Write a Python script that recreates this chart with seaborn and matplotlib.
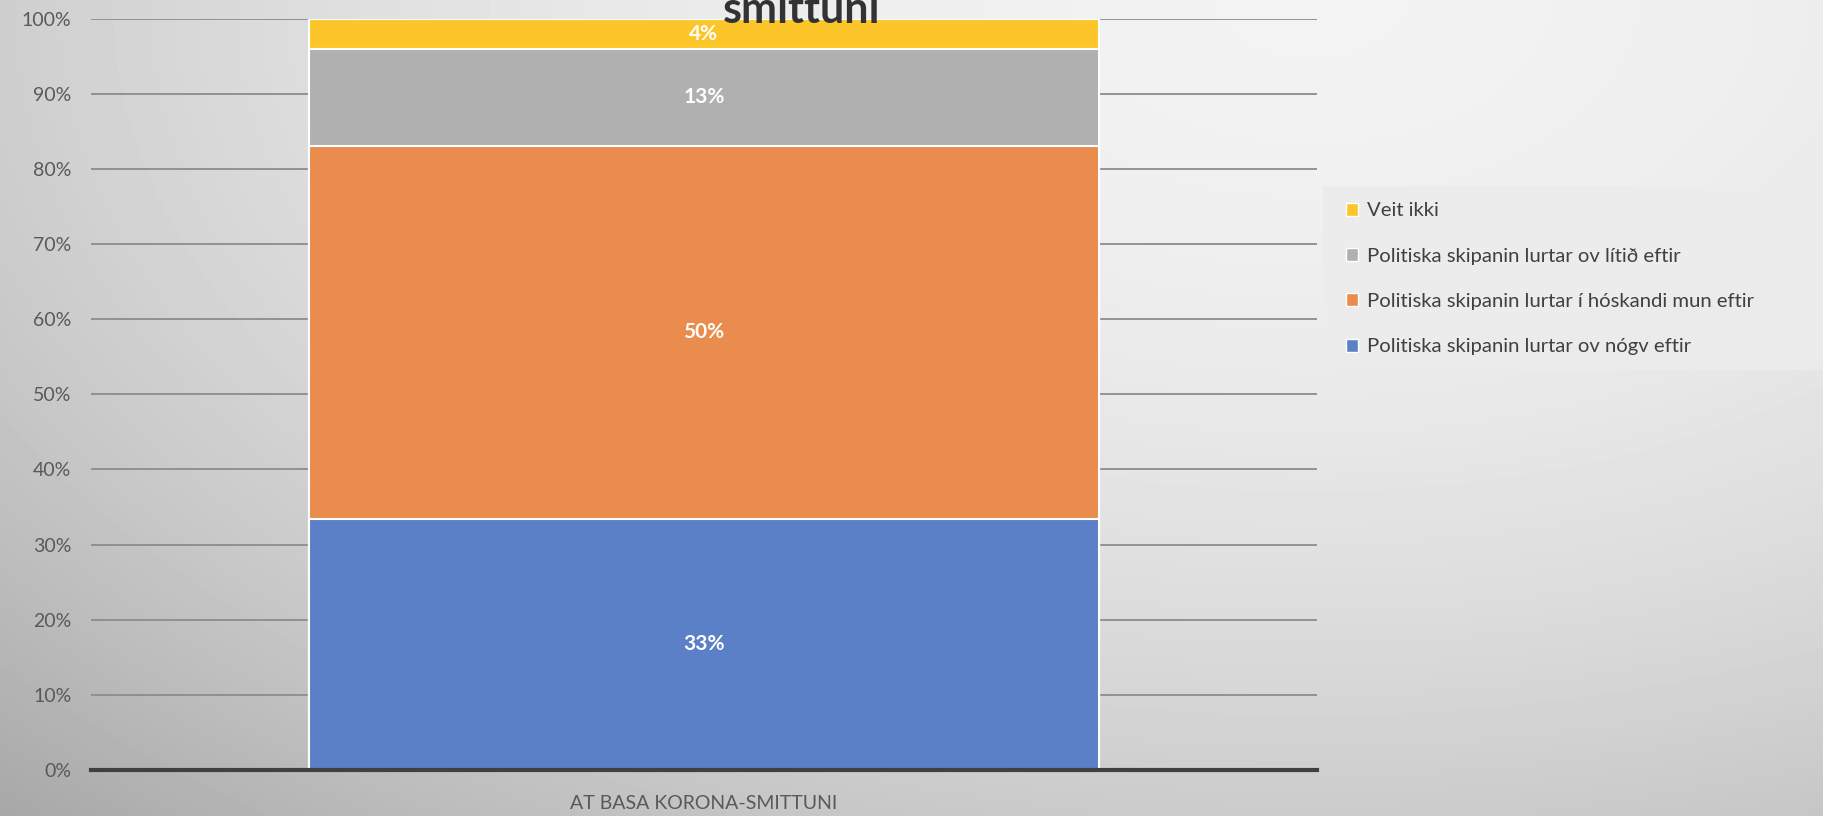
import numpy as np
import pandas as pd
import seaborn as sns
import matplotlib.pyplot as plt
from matplotlib.patches import Rectangle, Patch

category = ['AT BASA KORONA-SMITTUNI']
labels = ['Politiska skipanin lurtar ov nógv eftir',
          'Politiska skipanin lurtar í hóskandi mun eftir',
          'Politiska skipanin lurtar ov lítið eftir',
          'Veit ikki']
shares = [33.4, 49.7, 12.9, 4.0]
colors = ['#5b80c7', '#ea8c4d', '#b0b0b0', '#fcc62a']

sns.set_style('white')
plt.rcParams['font.family'] = ['Lato', 'DejaVu Sans']

fig = plt.figure(figsize=(18.23, 8.16), dpi=100)

# soft grey gradient background
bg = fig.add_axes([0, 0, 1, 1], zorder=-10)
gx, gy = np.meshgrid(np.linspace(0, 1, 400), np.linspace(0, 1, 200))
d2 = ((gx - 0.72) / 0.9) ** 2 + ((gy - 1.0) / 1.2) ** 2
bg.imshow(0.95 - 0.22 * d2, cmap='gray', vmin=0, vmax=1, origin='lower',
          extent=[0, 1, 0, 1], aspect='auto', interpolation='bicubic')
bg.axis('off')

ax = fig.add_axes([0.0499, 0.0564, 0.6725, 0.9208])
ax.patch.set_alpha(0)

cum = np.cumsum(shares)
for i in range(len(shares) - 1, -1, -1):
    df = pd.DataFrame({'cat': category, 'val': [cum[i]]})
    sns.barplot(data=df, x='cat', y='val', color=colors[i], saturation=1,
                width=0.645, edgecolor='white', linewidth=1.5, ax=ax, zorder=2)

for i, v in enumerate(shares):
    ax.text(0, cum[i] - v / 2, f'{round(v)}%', ha='center', va='center',
            color='white', fontsize=15, fontweight='bold', zorder=5)

ax.set_ylim(0, 100)
ax.set_yticks(np.arange(0, 101, 10))
ax.set_yticklabels([f'{t}%' for t in range(0, 101, 10)])
ax.yaxis.grid(True, color='#8c8c8c', linewidth=1.3, zorder=0)
ax.set_axisbelow(True)
for s in ['top', 'right', 'left']:
    ax.spines[s].set_visible(False)
ax.spines['bottom'].set_color('#404040')
ax.spines['bottom'].set_linewidth(3)
ax.spines['bottom'].set_zorder(6)
ax.tick_params(axis='both', length=0, labelsize=14, labelcolor='#595959', pad=14)
ax.tick_params(axis='x', pad=18)
ax.set_xlabel('')
ax.set_ylabel('')

fig.text(802 / 1823, 1 - 23 / 816, 'smittuni', ha='center', va='baseline',
         fontsize=31, fontweight='bold', color='#333333')

# legend box
fig.patches.append(Rectangle((1323 / 1823, 1 - 370 / 816), 0.3, 184 / 816,
                             transform=fig.transFigure, facecolor='#ececec',
                             edgecolor='none', alpha=0.85, zorder=1))
handles = [Patch(facecolor=colors[i], label=labels[i]) for i in range(3, -1, -1)]
fig.legend(handles=handles, loc='upper left',
           bbox_to_anchor=(1328 / 1823, 1 - 184 / 816), frameon=False,
           fontsize=14.6, handlelength=0.6, handleheight=0.6, handletextpad=0.4,
           labelspacing=1.4, labelcolor='#404040')

fig.savefig('out.png', dpi=100)
